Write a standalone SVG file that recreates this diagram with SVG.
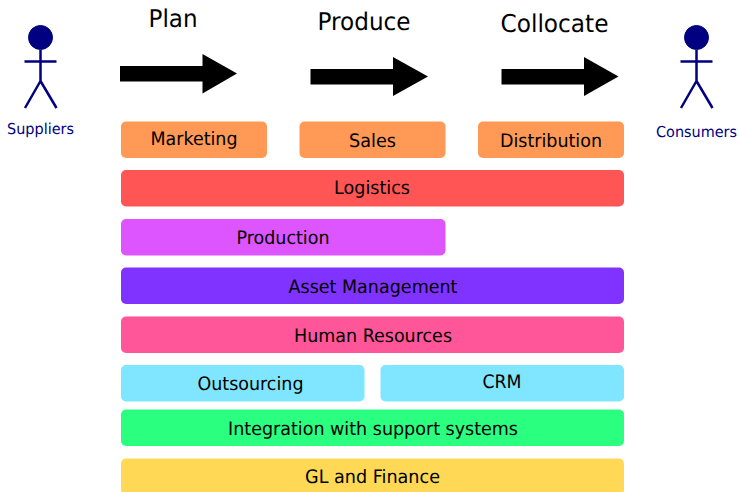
<svg xmlns="http://www.w3.org/2000/svg" width="739" height="492" viewBox="0 0 739 492">
<style>
text{font-family:"DejaVu Sans",sans-serif;text-anchor:middle;fill:#000;text-rendering:geometricPrecision}
.b text{font-size:18.500px}
.h{font-size:24.500px}
.actor circle{fill:#000080;stroke:#000080}
.actor path{fill:none;stroke:#000080;stroke-width:2.5}
.actor text{font-size:15px;fill:#000080}
</style>
<rect width="739" height="492" fill="#fff"/>
<g id="suppliers" class="actor"><circle cx="40.500" cy="37.500" r="12"/><path d="M40.500 50V81M24.500 61.500H56.500M40.500 81L25 108M40.500 81L56.500 108"/><text x="40.500" y="134" textLength="67" lengthAdjust="spacingAndGlyphs">Suppliers</text></g>
<g id="consumers" class="actor"><circle cx="696.500" cy="37.500" r="12"/><path d="M696.500 50V81M680.500 61.500H712.500M696.500 81L681 108M696.500 81L712.500 108"/><text x="696.500" y="137" textLength="81" lengthAdjust="spacingAndGlyphs">Consumers</text></g>
<g id="connectors">
<polygon points="120,66 202.500,66 202.500,54 237,73.500 202.500,93.500 202.500,81.500 120,81.500"/>
<polygon points="310.500,69 393,69 393,57 428,76.500 393,96 393,84.500 310.500,84.500"/>
<polygon points="501.500,69 584,69 584,57 618.500,76.500 584,96 584,84.500 501.500,84.500"/>
</g>
<g id="plan"><text class="h" x="173" y="27" textLength="49" lengthAdjust="spacingAndGlyphs">Plan</text></g>
<g id="produce"><text class="h" x="364" y="30" textLength="93" lengthAdjust="spacingAndGlyphs">Produce</text></g>
<g id="collocate"><text class="h" x="554.500" y="32" textLength="108" lengthAdjust="spacingAndGlyphs">Collocate</text></g>
<g class="b">
<g id="marketing"><rect x="121" y="121.500" width="146" height="36.500" rx="5" fill="#ff9955"/><text x="194" y="145" textLength="87" lengthAdjust="spacingAndGlyphs">Marketing</text></g>
<g id="sales"><rect x="299.500" y="121.500" width="146" height="36.500" rx="5" fill="#ff9955"/><text x="372.500" y="147" textLength="47" lengthAdjust="spacingAndGlyphs">Sales</text></g>
<g id="distribution"><rect x="478" y="121.500" width="146" height="36.500" rx="5" fill="#ff9955"/><text x="551" y="147" textLength="102" lengthAdjust="spacingAndGlyphs">Distribution</text></g>
<g id="logistics"><rect x="121" y="170" width="503" height="36.500" rx="5" fill="#ff5555"/><text x="372" y="194" textLength="76" lengthAdjust="spacingAndGlyphs">Logistics</text></g>
<g id="production"><rect x="121" y="219" width="324.500" height="36.500" rx="5" fill="#dd55ff"/><text x="283" y="244" textLength="93" lengthAdjust="spacingAndGlyphs">Production</text></g>
<g id="asset"><rect x="121" y="267.500" width="503" height="36.500" rx="5" fill="#8033ff"/><text x="373" y="293" textLength="169" lengthAdjust="spacingAndGlyphs">Asset Management</text></g>
<g id="hr"><rect x="121" y="316.500" width="503" height="36.500" rx="5" fill="#ff5599"/><text x="373" y="342" textLength="158" lengthAdjust="spacingAndGlyphs">Human Resources</text></g>
<g id="outsourcing"><rect x="121" y="365" width="243.500" height="36.500" rx="5" fill="#80e5ff"/><text x="250.500" y="390" textLength="106" lengthAdjust="spacingAndGlyphs">Outsourcing</text></g>
<g id="crm"><rect x="380.500" y="365" width="243.500" height="36.500" rx="5" fill="#80e5ff"/><text x="502" y="388" textLength="39" lengthAdjust="spacingAndGlyphs">CRM</text></g>
<g id="integration"><rect x="121" y="409.500" width="503" height="36.500" rx="5" fill="#2aff80"/><text x="373" y="435" textLength="290" lengthAdjust="spacingAndGlyphs">Integration with support systems</text></g>
<g id="gl"><rect x="121" y="458.500" width="503" height="36.500" rx="5" fill="#ffd955"/><text x="372.500" y="483" textLength="135" lengthAdjust="spacingAndGlyphs">GL and Finance</text></g>
</g>
</svg>
